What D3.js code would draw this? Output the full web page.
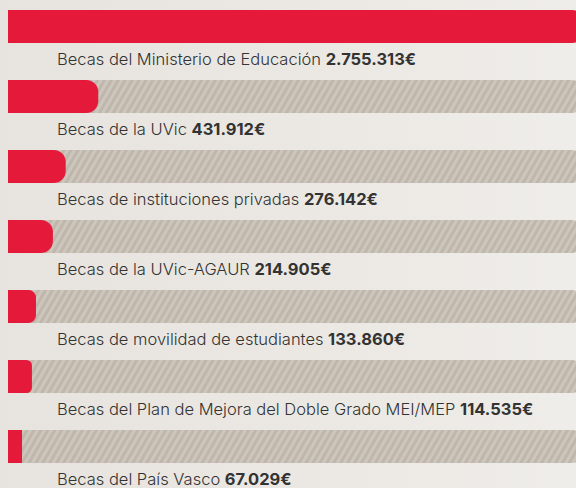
<!DOCTYPE html>
<html>
<head>
<meta charset="utf-8">
<script src="https://cdn.jsdelivr.net/npm/d3@7"></script>
<style>
  body { margin: 0; background: #ebe8e3; }
  svg { display: block; }
</style>
</head>
<body>
<div id="container"></div>
<script>
const labels = ["Becas del Ministerio de Educación", "Becas de la UVic", "Becas de instituciones privadas",
  "Becas de la UVic-AGAUR", "Becas de movilidad de estudiantes",
  "Becas del Plan de Mejora del Doble Grado MEI/MEP", "Becas del País Vasco"];
const amounts = [2755313, 431912, 276142, 214905, 133860, 114535, 67029];
const amountLabels = ["2.755.313€", "431.912€", "276.142€", "214.905€", "133.860€", "114.535€", "67.029€"];

const w = 576, h = 488;
const left = 8, right = 584;
const barH = 33, rowH = 70;

const svg = d3.select("#container").append("svg")
  .attr("width", w).attr("height", h);

const defs = svg.append("defs");
const bg = defs.append("linearGradient").attr("id", "bg").attr("x1", 0).attr("x2", 1).attr("y1", 0).attr("y2", 0);
bg.append("stop").attr("offset", 0).attr("stop-color", "#e7e3de");
bg.append("stop").attr("offset", 1).attr("stop-color", "#efede9");

const pat = defs.append("pattern").attr("id", "stripes")
  .attr("patternUnits", "userSpaceOnUse")
  .attr("width", 6).attr("height", 6)
  .attr("patternTransform", "rotate(30)");
pat.append("rect").attr("width", 6).attr("height", 6).attr("fill", "#bfb7ac");
pat.append("rect").attr("width", 3).attr("height", 6).attr("fill", "#cdc6bc");

svg.append("rect").attr("width", w).attr("height", h).attr("fill", "url(#bg)");

const x = d3.scaleLinear().domain([0, d3.max(amounts)]).range([left, right]);
const y = d3.scaleBand().domain(d3.range(labels.length)).range([10, 10 + rowH * labels.length]).paddingInner(0);

// square left end, rounded right end
function arcPath(x0, x1, y0, hh, r) {
  r = Math.max(0, Math.min(r, (x1 - x0), hh / 2));
  if (r === 0) return `M${x0},${y0}H${x1}V${y0 + hh}H${x0}Z`;
  return `M${x0},${y0}H${x1 - r}A${r},${r} 0 0 1 ${x1},${y0 + r}V${y0 + hh - r}A${r},${r} 0 0 1 ${x1 - r},${y0 + hh}H${x0}Z`;
}

const rows = svg.selectAll("g.row").data(amounts).enter().append("g").attr("class", "row");

rows.append("path")
  .attr("d", (d, i) => arcPath(left, right, y(i), barH, 12))
  .attr("fill", "url(#stripes)");

rows.append("path")
  .attr("d", (d, i) => {
    const wd = x(d) - left;
    const r = Math.min(12, Math.max(0, (wd - 14) * 0.55));
    return arcPath(left, x(d), y(i), barH, r);
  })
  .attr("fill", "#e51a3a");

const txt = rows.append("text")
  .attr("x", 57)
  .attr("y", (d, i) => y(i) + 54.5)
  .attr("font-family", "Inter, sans-serif")
  .attr("font-size", 16.5)
  .attr("fill", "#333");
txt.append("tspan").attr("font-weight", 300).text((d, i) => labels[i] + " ");
txt.append("tspan").attr("font-weight", 700).text((d, i) => amountLabels[i]);
</script>
</body>
</html>
